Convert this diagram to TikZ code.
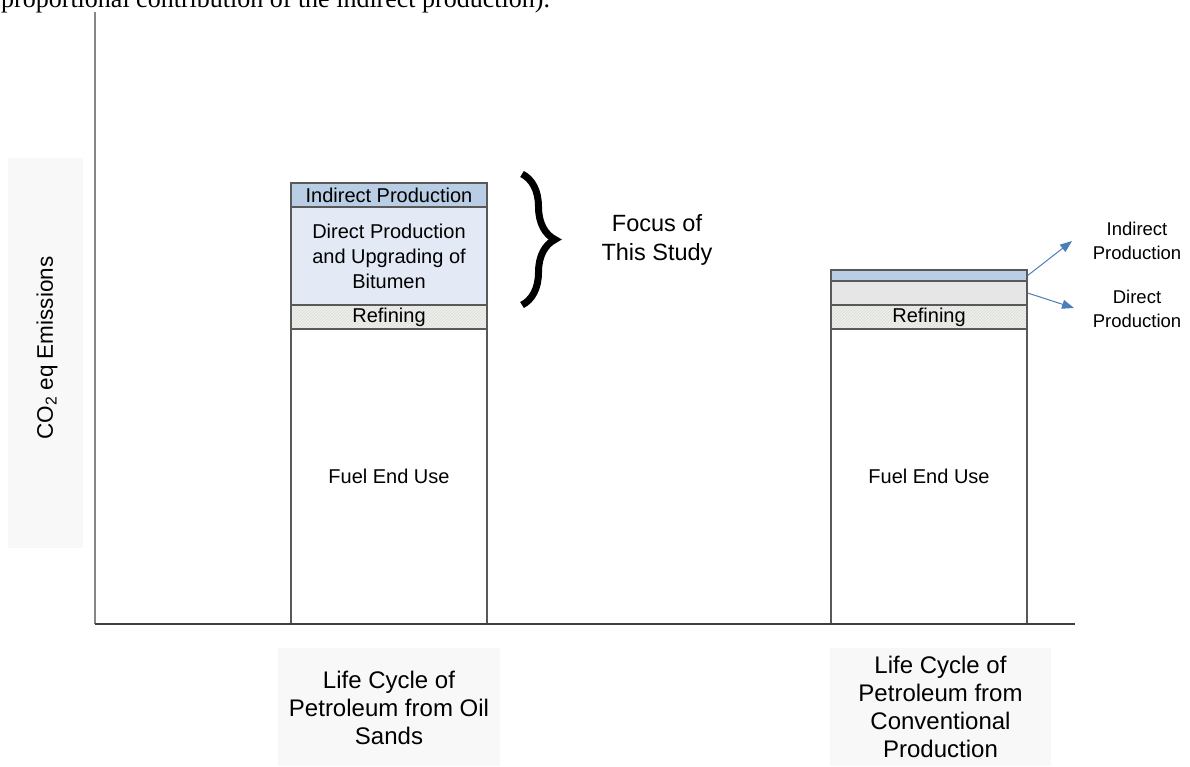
\documentclass[tikz,border=0pt]{standalone}
\usepackage{fontspec}
\setmainfont{Liberation Sans}
\newfontfamily\seriffont{Liberation Serif}
\usetikzlibrary{patterns,decorations.pathreplacing,arrows.meta}
\definecolor{indc}{HTML}{B9CDE5}
\definecolor{dirc}{HTML}{E3EAF5}
\definecolor{dirg}{HTML}{E6E6E6}
\definecolor{refc}{HTML}{EEF0EA}
\definecolor{edgec}{HTML}{595959}
\definecolor{arrc}{HTML}{4A7EBB}
\definecolor{boxc}{HTML}{F8F8F8}
\begin{document}
\begin{tikzpicture}[x=1pt,y=1pt,
  seg/.style={draw=edgec,line width=1.3pt,minimum width=196pt,inner sep=0pt,
    font=\fontsize{20}{25}\selectfont,align=center},
  refseg/.style={seg,minimum height=24pt,preaction={fill=refc},
    pattern=north east lines,pattern color=gray!30},
  lblbox/.style={fill=boxc,inner sep=0pt},
  lbltext/.style={align=center,inner sep=0pt},
  arr/.style={draw=arrc,line width=1pt,-{Triangle[length=12pt,width=9pt]},arrc},
  axisy/.style={draw=gray!95,line width=2pt},
  axisx/.style={draw=black!75,line width=1.6pt}]
\useasboundingbox (0,0) rectangle (1190,-766);

% clipped running text at top
\node[anchor=base west,font=\seriffont\fontsize{26}{30}\selectfont,inner sep=0pt] (toptext) at (1,-7)
  {proportional contribution of the indirect production).};

% y-axis label box
\node[lblbox,minimum width=75pt,minimum height=390pt] (ybox) at (45.5,-353) {};
\node[lbltext,rotate=90,font=\fontsize{22.5}{26}\selectfont] (ylab) at (47,-348)
  {CO\textsubscript{2} eq Emissions};

% bar 1 (oil sands)
\node[seg,fill=indc,minimum height=24pt] (a1) at (389,-195) {Indirect Production};
\node[seg,fill=dirc,minimum height=98pt] (a2) at (389,-256) {Direct Production\\and Upgrading of\\Bitumen};
\node[refseg] (a3) at (389,-317) {Refining};
\node[seg,fill=white,minimum height=295pt] (a4) at (389,-476.5) {Fuel End Use};

% bar 2 (conventional)
\node[seg,fill=indc,minimum height=11pt] (b1) at (929,-275.5) {};
\node[seg,fill=dirg,minimum height=24pt] (b2) at (929,-293) {};
\node[refseg] (b3) at (929,-317) {Refining};
\node[seg,fill=white,minimum height=295pt] (b4) at (929,-476.5) {Fuel End Use};

% axes
\coordinate (ytop) at (95,-12);
\coordinate (orig) at (95,-624);
\coordinate (xend) at (1075,-624);
\draw[axisy] (ytop) -- (orig);
\draw[axisx] (orig) -- (xend);

% brace and focus text
\coordinate (bt) at (522,-174);
\coordinate (bb) at (522,-305);
\draw[line width=7pt,decorate,decoration={brace,amplitude=33pt,aspect=0.5}] (bt) -- (bb);
\node[lbltext,font=\fontsize{23.5}{29}\selectfont] (focus) at (657,-240) {Focus of\\This Study};

% right labels and arrows
\node[lbltext,font=\fontsize{18.5}{24}\selectfont] (lind) at (1137,-241) {Indirect\\Production};
\node[lbltext,font=\fontsize{18.5}{24}\selectfont] (ldir) at (1137,-309) {Direct\\Production};
\coordinate (t1) at (1072,-241);
\coordinate (t2) at (1074,-308);
\draw[arr] (b1.east) -- (t1);
\draw[arr] (b2.east) -- (t2);

% bottom category labels
\node[lblbox,minimum width=222pt,minimum height=118pt] (c1box) at (389,-707) {};
\node[lbltext,font=\fontsize{24}{28}\selectfont] (c1) at (389,-708) {Life Cycle of\\Petroleum from Oil\\Sands};
\node[lblbox,minimum width=221pt,minimum height=118pt] (c2box) at (940.5,-707) {};
\node[lbltext,font=\fontsize{24}{28}\selectfont] (c2) at (940.5,-707) {Life Cycle of\\Petroleum from\\Conventional\\Production};
\end{tikzpicture}
\end{document}
